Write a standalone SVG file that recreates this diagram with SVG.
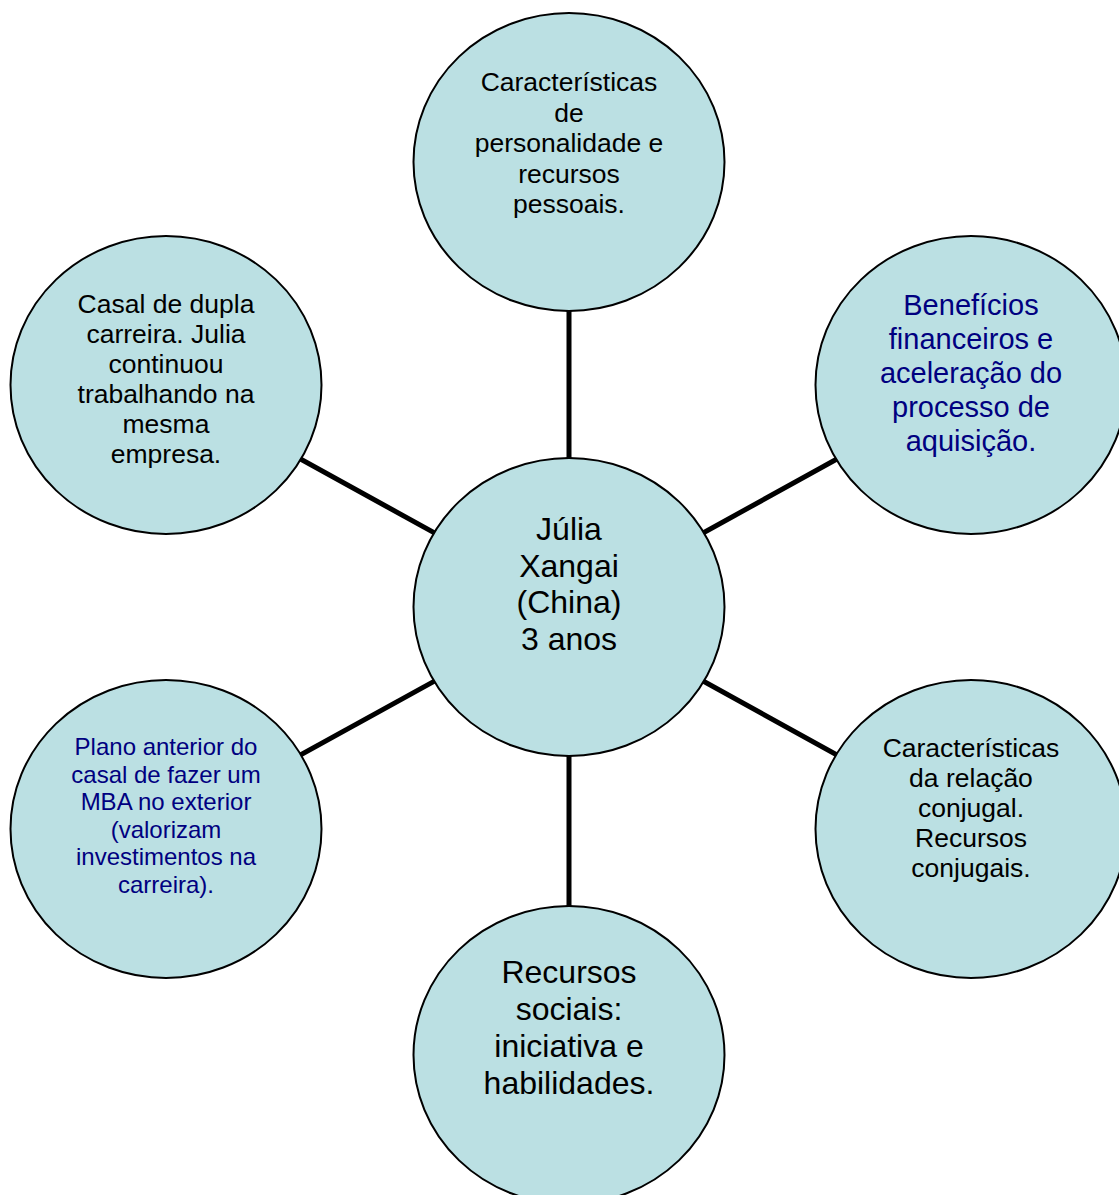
<svg xmlns="http://www.w3.org/2000/svg" width="1119" height="1195" viewBox="0 0 1119 1195">
<style>
.node{fill:#BBE0E3;stroke:#000;stroke-width:2}
.conn{stroke:#000;stroke-width:5;fill:none}
text{font-family:"Liberation Sans",Arial,sans-serif;text-anchor:middle}
.k{fill:#000}
.b{fill:#000080}
</style>
<rect width="1119" height="1195" fill="#fff"/>
<g id="connectors">
<line class="conn" x1="569" y1="607" x2="569" y2="162"/>
<line class="conn" x1="569" y1="607" x2="569" y2="1055"/>
<line class="conn" x1="569" y1="607" x2="166" y2="385"/>
<line class="conn" x1="569" y1="607" x2="971" y2="385"/>
<line class="conn" x1="569" y1="607" x2="166" y2="829"/>
<line class="conn" x1="569" y1="607" x2="971" y2="829"/>
</g>
<g id="n-top">
<ellipse class="node" cx="569" cy="162" rx="155.5" ry="149"/>
<text class="k" font-size="26.5"><tspan x="569" y="91">Características</tspan><tspan x="569" y="121.5">de</tspan><tspan x="569" y="152">personalidade e</tspan><tspan x="569" y="182.5">recursos</tspan><tspan x="569" y="213">pessoais.</tspan></text>
</g>
<g id="n-left-top">
<ellipse class="node" cx="166" cy="385" rx="155.5" ry="149"/>
<text class="k" font-size="26.5"><tspan x="166" y="313">Casal de dupla</tspan><tspan x="166" y="343">carreira. Julia</tspan><tspan x="166" y="373">continuou</tspan><tspan x="166" y="403">trabalhando na</tspan><tspan x="166" y="433">mesma</tspan><tspan x="166" y="463">empresa.</tspan></text>
</g>
<g id="n-right-top">
<ellipse class="node" cx="971" cy="385" rx="155.5" ry="149"/>
<text class="b" font-size="29"><tspan x="971" y="315">Benefícios</tspan><tspan x="971" y="349">financeiros e</tspan><tspan x="971" y="383">aceleração do</tspan><tspan x="971" y="417">processo de</tspan><tspan x="971" y="451">aquisição.</tspan></text>
</g>
<g id="n-center">
<ellipse class="node" cx="569" cy="607" rx="155.5" ry="149"/>
<text class="k" font-size="32"><tspan x="569" y="540">Júlia</tspan><tspan x="569" y="576.5">Xangai</tspan><tspan x="569" y="613">(China)</tspan><tspan x="569" y="649.5">3 anos</tspan></text>
</g>
<g id="n-left-bottom">
<ellipse class="node" cx="166" cy="829" rx="155.5" ry="149"/>
<text class="b" font-size="24"><tspan x="166" y="755">Plano anterior do</tspan><tspan x="166" y="782.5">casal de fazer um</tspan><tspan x="166" y="810">MBA no exterior</tspan><tspan x="166" y="837.5">(valorizam</tspan><tspan x="166" y="865">investimentos na</tspan><tspan x="166" y="892.5">carreira).</tspan></text>
</g>
<g id="n-right-bottom">
<ellipse class="node" cx="971" cy="829" rx="155.5" ry="149"/>
<text class="k" font-size="26.5"><tspan x="971" y="757">Características</tspan><tspan x="971" y="787">da relação</tspan><tspan x="971" y="817">conjugal.</tspan><tspan x="971" y="847">Recursos</tspan><tspan x="971" y="877">conjugais.</tspan></text>
</g>
<g id="n-bottom">
<ellipse class="node" cx="569" cy="1055" rx="155.5" ry="149"/>
<text class="k" font-size="32"><tspan x="569" y="983">Recursos</tspan><tspan x="569" y="1020">sociais:</tspan><tspan x="569" y="1057">iniciativa e</tspan><tspan x="569" y="1094">habilidades.</tspan></text>
</g>
</svg>
